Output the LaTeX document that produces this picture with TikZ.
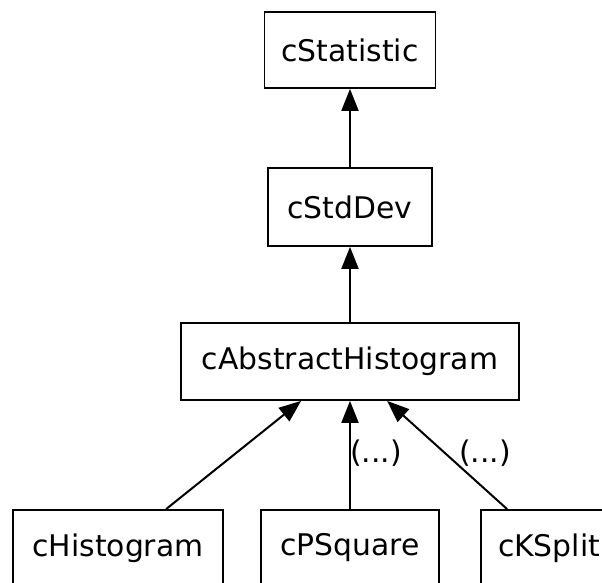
\documentclass[tikz,border=0pt]{standalone}
\usepackage{fontspec}
\setmainfont{DejaVu Sans}
\usetikzlibrary{arrows.meta}
\begin{document}
\begin{tikzpicture}[x=1pt,y=-1pt,
  cls/.style={draw,line width=1.8pt,rectangle,inner sep=0pt,font=\fontsize{29.8}{36}\selectfont},
  inh/.style={line width=2pt,-{Triangle[length=22pt,width=17pt]}},
  lbl/.style={font=\fontsize{29.8}{36}\selectfont,inner sep=0pt}]
\useasboundingbox (0,0) rectangle (602,583);
\node[cls,minimum width=171pt,minimum height=76pt] (stat) at (350,50) {cStatistic};
\node[cls,minimum width=164pt,minimum height=78pt] (dev) at (350,207) {cStdDev};
\node[cls,minimum width=338pt,minimum height=77pt] (abs) at (350,361.5) {cAbstractHistogram};
\node[cls,minimum width=210pt,minimum height=76pt] (hist) at (118,548) {cHistogram};
\node[cls,minimum width=178pt,minimum height=76pt] (ps) at (350,548) {cPSquare};
\node[cls,minimum width=136pt,minimum height=76pt] (ks) at (549,548) {cKSplit};
\draw[inh] (dev.north) -- (stat.south);
\draw[inh] (abs.north) -- (dev.south);
\draw[inh] ([xshift=154pt]hist.north west) -- ([xshift=121pt]abs.south west);
\draw[inh] (ps.north) -- (abs.south);
\draw[inh] ([xshift=27pt]ks.north west) -- ([xshift=207pt]abs.south west);
\node[lbl] (l1) at (376,453) {(...)};
\node[lbl] (l2) at (485,453) {(...)};
\end{tikzpicture}
\end{document}
